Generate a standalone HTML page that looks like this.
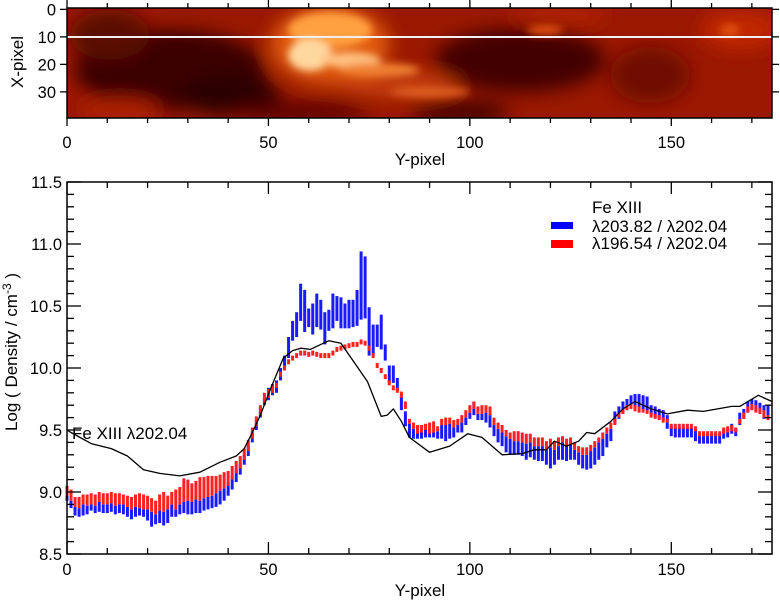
<!DOCTYPE html>
<html><head><meta charset="utf-8"><style>
html,body{margin:0;padding:0;background:#fff;}
svg{display:block;font-family:"Liberation Sans",Arial,sans-serif;}
</style></head><body>
<svg id="c" width="780" height="600" viewBox="0 0 780 600">
<defs>
<clipPath id="imgclip"><rect x="67" y="8" width="705" height="110"/></clipPath>
<filter id="bl" x="-50%" y="-50%" width="200%" height="200%"><feGaussianBlur stdDeviation="9"/></filter>
<filter id="bl2" x="-50%" y="-50%" width="200%" height="200%"><feGaussianBlur stdDeviation="4"/></filter>
</defs>
<g id="heat" clip-path="url(#imgclip)">
<rect x="67" y="8" width="705" height="110" fill="#9a1800"/>
<g filter="url(#bl)">
<ellipse cx="170" cy="70" rx="95" ry="40" fill="#3a0200"/>
<ellipse cx="230" cy="95" rx="50" ry="20" fill="#2a0000"/>
<ellipse cx="110" cy="35" rx="40" ry="25" fill="#5a0800"/>
<ellipse cx="520" cy="60" rx="85" ry="32" fill="#420300"/>
<ellipse cx="650" cy="75" rx="40" ry="28" fill="#701000"/>
<ellipse cx="300" cy="112" rx="70" ry="10" fill="#5a0600"/>
<ellipse cx="460" cy="112" rx="50" ry="10" fill="#3a0200"/>
<ellipse cx="120" cy="110" rx="40" ry="12" fill="#b02000"/>
<ellipse cx="740" cy="30" rx="40" ry="20" fill="#c02800"/>
<ellipse cx="560" cy="15" rx="50" ry="10" fill="#b02000"/>
<ellipse cx="330" cy="45" rx="60" ry="40" fill="#e05a10"/>
<ellipse cx="400" cy="85" rx="60" ry="12" fill="#c84010"/>
</g>
<g filter="url(#bl2)">
<ellipse cx="330" cy="30" rx="42" ry="18" fill="#ffa040"/>
<ellipse cx="310" cy="55" rx="22" ry="16" fill="#ffd8a0"/>
<ellipse cx="350" cy="60" rx="30" ry="8" fill="#ffc080"/>
<ellipse cx="380" cy="70" rx="40" ry="7" fill="#f08030"/>
<ellipse cx="430" cy="92" rx="40" ry="5" fill="#e06020"/>
<ellipse cx="545" cy="30" rx="18" ry="5" fill="#e05010"/>
<ellipse cx="730" cy="30" rx="10" ry="6" fill="#e05010"/>
</g>
<line x1="67" y1="37" x2="772" y2="37" stroke="#f0f0f0" stroke-width="2"/>
</g>
<rect x="67" y="8" width="705" height="110" fill="none" stroke="#000" stroke-width="1.5"/>
<g id="topaxes"></g>
<g id="plot"></g>
<g id="axes"></g>
<text x="420" y="165" font-size="17" text-anchor="middle">Y-pixel</text>
<text transform="translate(23,62) rotate(-90)" font-size="17" text-anchor="middle">X-pixel</text>
<text x="420" y="596" font-size="17" text-anchor="middle">Y-pixel</text>
<text transform="translate(17,352) rotate(-90)" font-size="17" text-anchor="middle">Log ( Density / cm<tspan dy="-6" font-size="12">-3</tspan><tspan dy="6"> )</tspan></text>
<text x="72" y="439" font-size="17">Fe XIII λ202.04</text>
<g>
<text x="592" y="213" font-size="17">Fe XIII</text>
<rect x="551" y="222" width="22" height="7" fill="#0000ff"/>
<text x="592" y="232" font-size="17">λ203.82 / λ202.04</text>
<rect x="551" y="240" width="22" height="8" fill="#ff0000"/>
<text x="592" y="249" font-size="17">λ196.54 / λ202.04</text>
</g>
</svg>
<script>
const blueLo=[8.93,8.87,8.81,8.80,8.81,8.82,8.85,8.83,8.84,8.83,
8.83,8.84,8.82,8.83,8.82,8.80,8.78,8.80,8.81,8.80,
8.77,8.72,8.74,8.75,8.73,8.75,8.80,8.80,8.82,8.83,
8.82,8.82,8.83,8.83,8.85,8.86,8.87,8.88,8.90,8.93,
8.97,9.02,9.08,9.14,9.22,9.29,9.40,9.50,9.60,9.70,
9.74,9.78,9.80,9.90,9.98,10.08,10.22,10.25,10.38,10.29,
10.33,10.27,10.33,10.31,10.19,10.30,10.32,10.38,10.32,10.32,
10.32,10.33,10.34,10.39,10.40,10.10,10.10,10.17,10.15,10.06,
9.88,9.88,9.82,9.66,9.53,9.44,9.43,9.43,9.43,9.44,
9.44,9.44,9.43,9.43,9.41,9.43,9.44,9.48,9.48,9.54,
9.59,9.62,9.58,9.58,9.56,9.52,9.45,9.40,9.37,9.32,
9.30,9.30,9.30,9.29,9.26,9.28,9.26,9.25,9.25,9.22,
9.19,9.22,9.26,9.26,9.25,9.26,9.26,9.22,9.19,9.18,
9.19,9.22,9.26,9.29,9.36,9.41,9.55,9.59,9.63,9.66,
9.69,9.68,9.67,9.66,9.65,9.62,9.60,9.59,9.58,9.51,
9.45,9.44,9.44,9.44,9.44,9.44,9.41,9.39,9.39,9.39,
9.39,9.39,9.39,9.43,9.44,9.47,9.45,9.54,9.59,9.64,
9.66,9.65,9.63,9.59,9.59];
const blueHi=[8.97,8.93,8.88,8.87,8.90,8.89,8.90,8.89,8.92,8.90,
8.90,8.91,8.89,8.90,8.90,8.88,8.86,8.88,8.87,8.86,
8.86,8.84,8.82,8.85,8.84,8.86,8.90,8.86,8.90,8.92,
8.93,8.92,8.94,8.93,8.95,8.96,8.97,8.99,9.01,9.03,
9.08,9.13,9.18,9.23,9.30,9.37,9.48,9.58,9.67,9.76,
9.84,9.87,9.90,10.00,10.10,10.25,10.38,10.45,10.68,10.63,
10.48,10.52,10.60,10.55,10.45,10.47,10.60,10.58,10.57,10.52,
10.55,10.55,10.63,10.94,10.90,10.49,10.35,10.35,10.43,10.19,
10.02,10.02,9.92,9.77,9.65,9.55,9.51,9.48,9.49,9.50,
9.51,9.48,9.49,9.54,9.54,9.55,9.52,9.54,9.56,9.60,
9.64,9.73,9.63,9.63,9.64,9.62,9.54,9.51,9.48,9.45,
9.43,9.41,9.41,9.40,9.39,9.40,9.37,9.37,9.37,9.34,
9.36,9.34,9.37,9.40,9.37,9.38,9.34,9.32,9.30,9.30,
9.33,9.36,9.40,9.43,9.47,9.51,9.65,9.69,9.73,9.75,
9.78,9.79,9.79,9.78,9.77,9.70,9.69,9.67,9.66,9.62,
9.54,9.52,9.52,9.52,9.52,9.52,9.51,9.47,9.47,9.47,
9.47,9.47,9.47,9.51,9.52,9.55,9.52,9.64,9.67,9.73,
9.75,9.74,9.72,9.70,9.70];
const redLo=[8.97,8.93,8.88,8.87,8.90,8.89,8.90,8.89,8.92,8.90,
8.90,8.91,8.89,8.90,8.90,8.88,8.86,8.88,8.87,8.86,
8.86,8.84,8.82,8.85,8.84,8.86,8.90,8.86,8.90,8.92,
8.93,8.92,8.94,8.93,8.95,8.96,8.97,8.99,9.01,9.03,
9.05,9.10,9.15,9.19,9.26,9.33,9.43,9.53,9.62,9.72,
9.76,9.80,9.84,9.93,9.98,10.03,10.06,10.08,10.10,10.10,
10.09,10.10,10.09,10.08,10.08,10.08,10.10,10.13,10.14,10.15,
10.16,10.17,10.17,10.19,10.18,10.14,10.08,10.00,9.96,9.91,
9.86,9.82,9.80,9.76,9.67,9.55,9.51,9.47,9.48,9.50,
9.47,9.48,9.49,9.54,9.54,9.55,9.52,9.54,9.56,9.60,
9.64,9.67,9.63,9.63,9.64,9.62,9.54,9.51,9.48,9.45,
9.43,9.41,9.41,9.40,9.39,9.40,9.37,9.37,9.37,9.34,
9.36,9.34,9.37,9.40,9.37,9.38,9.34,9.32,9.30,9.30,
9.33,9.36,9.40,9.43,9.47,9.51,9.54,9.60,9.63,9.66,
9.67,9.65,9.64,9.64,9.63,9.60,9.59,9.58,9.56,9.56,
9.51,9.51,9.51,9.51,9.51,9.51,9.49,9.45,9.45,9.45,
9.45,9.45,9.45,9.47,9.48,9.49,9.48,9.55,9.59,9.64,
9.66,9.64,9.63,9.60,9.58];
const redHi=[9.05,9.02,8.96,8.96,8.98,8.98,8.99,8.98,9.00,8.99,
8.99,9.00,8.99,8.99,8.98,8.97,8.96,8.98,8.99,8.98,
8.97,8.95,8.93,8.98,9.00,8.97,9.00,9.02,9.04,9.11,
9.10,9.07,9.09,9.12,9.12,9.13,9.13,9.13,9.14,9.16,
9.17,9.21,9.25,9.29,9.35,9.42,9.52,9.61,9.70,9.80,
9.83,9.86,9.88,9.97,10.02,10.07,10.10,10.12,10.14,10.14,
10.13,10.14,10.13,10.12,10.12,10.12,10.14,10.17,10.18,10.19,
10.20,10.21,10.21,10.23,10.22,10.18,10.12,10.04,10.00,9.95,
9.90,9.86,9.84,9.81,9.73,9.59,9.56,9.54,9.54,9.55,
9.56,9.57,9.53,9.59,9.60,9.60,9.58,9.59,9.62,9.66,
9.70,9.73,9.69,9.70,9.70,9.69,9.60,9.56,9.54,9.50,
9.48,9.49,9.49,9.48,9.47,9.47,9.44,9.44,9.44,9.41,
9.43,9.41,9.44,9.45,9.43,9.44,9.40,9.37,9.36,9.36,
9.38,9.41,9.44,9.48,9.52,9.56,9.59,9.64,9.67,9.70,
9.71,9.70,9.69,9.67,9.66,9.64,9.63,9.62,9.60,9.59,
9.55,9.55,9.55,9.55,9.55,9.55,9.53,9.49,9.49,9.49,
9.49,9.49,9.49,9.52,9.53,9.54,9.52,9.59,9.64,9.69,
9.71,9.70,9.68,9.66,9.62];
const lineX=[0,1,6,11,15,19,23,28,33,38,42,44,46,48,50.5,53.7,56,58,60.4,63,65,68,71,74.6,78,79.5,81,83,85,90,95,99.5,103,108,113,116,119,121,124,127,129,131,135,138,141,145,149,154,158,165,167,171.6,175];
const lineV=[9.50,9.48,9.39,9.35,9.29,9.18,9.15,9.13,9.16,9.24,9.29,9.35,9.48,9.62,9.83,10.08,10.14,10.16,10.15,10.19,10.22,10.20,10.06,9.89,9.61,9.62,9.67,9.57,9.44,9.32,9.37,9.47,9.44,9.30,9.31,9.34,9.34,9.41,9.37,9.41,9.48,9.47,9.57,9.67,9.73,9.67,9.63,9.66,9.65,9.69,9.69,9.78,9.73];
const xTickLabels=["0","50","100","150"];
const xTickVals=[0,50,100,150];
const yTickVals=[8.5,9.0,9.5,10.0,10.5,11.0,11.5];
const yTickLabels=["8.5","9.0","9.5","10.0","10.5","11.0","11.5"];
const rowTickVals=[0,10,20,30];
const rowTickLabels=["0","10","20","30"];

const NS="http://www.w3.org/2000/svg";
const L=67,R=772,T=182,B=554,XMAX=175,YMIN=8.5,YMAX=11.5;
function X(v){return L+v*(R-L)/XMAX;}
function Y(v){return B-(v-YMIN)*(B-T)/(YMAX-YMIN);}
function mk(tag,attrs,parent){const e=document.createElementNS(NS,tag);for(const k in attrs)e.setAttribute(k,attrs[k]);parent.appendChild(e);return e;}
const plot=document.getElementById('plot');
for(let i=0;i<blueLo.length;i++){
  const x=X(i);
  const b=mk('rect',{x:x-1.5,y:Y(blueHi[i]),width:3,height:Math.max(1,Y(blueLo[i])-Y(blueHi[i])),fill:'#1a1aff'},plot);
  
  
}
for(let i=0;i<redLo.length;i++){
  const x=X(i);
  const r=mk('rect',{x:x-1.5,y:Y(redHi[i]),width:3,height:Math.max(1,Y(redLo[i])-Y(redHi[i])),fill:'#ff2020'},plot);
  
  
}
let d='';
for(let i=0;i<lineX.length;i++){d+=(i?'L':'M')+X(lineX[i]).toFixed(1)+','+Y(lineV[i]).toFixed(1);}
const ln=mk('path',{d:d,fill:'none',stroke:'#000','stroke-width':1.3,'stroke-linejoin':'round'},plot);



const ax=document.getElementById('axes');
const fr=mk('rect',{x:L,y:T,width:R-L,height:B-T,fill:'none',stroke:'#000','stroke-width':1.5},ax);


for(let v=0;v<=170;v+=10){
  const big=(v%50===0);const h=big?12:6;
  mk('line',{x1:X(v),x2:X(v),y1:B,y2:B-h,stroke:'#000','stroke-width':1.3},ax);
  mk('line',{x1:X(v),x2:X(v),y1:T,y2:T+h,stroke:'#000','stroke-width':1.3},ax);
}
xTickVals.forEach((v,i)=>{const t=mk('text',{x:X(v),y:B+21,'font-size':16.5,'text-anchor':'middle'},ax);t.textContent=xTickLabels[i];
  
  });
for(let k=0;k<=30;k++){const v=8.5+k*0.1;const big=(k%5===0);const h=big?14:7;
  mk('line',{x1:L,x2:L+h,y1:Y(v),y2:Y(v),stroke:'#000','stroke-width':1.3},ax);
  mk('line',{x1:R,x2:R-h,y1:Y(v),y2:Y(v),stroke:'#000','stroke-width':1.3},ax);}
yTickVals.forEach((v,i)=>{const t=mk('text',{x:62,y:Y(v)+6,'font-size':16.5,'text-anchor':'end'},ax);t.textContent=yTickLabels[i];
  
  });

const ta=document.getElementById('topaxes');
const IT=8,IB=118;function RY(r){return IT+(r+0.5)*(IB-IT)/40;}
for(let v=0;v<=170;v+=10){const big=(v%50===0);const h=big?8:5;
  mk('line',{x1:X(v),x2:X(v),y1:IB,y2:IB+h,stroke:'#000','stroke-width':1.3},ta);
  mk('line',{x1:X(v),x2:X(v),y1:IT,y2:IT-h,stroke:'#000','stroke-width':1.3},ta);}
xTickVals.forEach((v,i)=>{const t=mk('text',{x:X(v),y:148,'font-size':16.5,'text-anchor':'middle'},ta);t.textContent=xTickLabels[i];
  
  });
rowTickVals.forEach((v,i)=>{
  mk('line',{x1:L,x2:L-7,y1:RY(v),y2:RY(v),stroke:'#000','stroke-width':1.3},ta);
  mk('line',{x1:R,x2:R+7,y1:RY(v),y2:RY(v),stroke:'#000','stroke-width':1.3},ta);
  const t=mk('text',{x:56,y:RY(v)+6,'font-size':16.5,'text-anchor':'end'},ta);t.textContent=rowTickLabels[i];
  
  });
</script>
</body></html>
